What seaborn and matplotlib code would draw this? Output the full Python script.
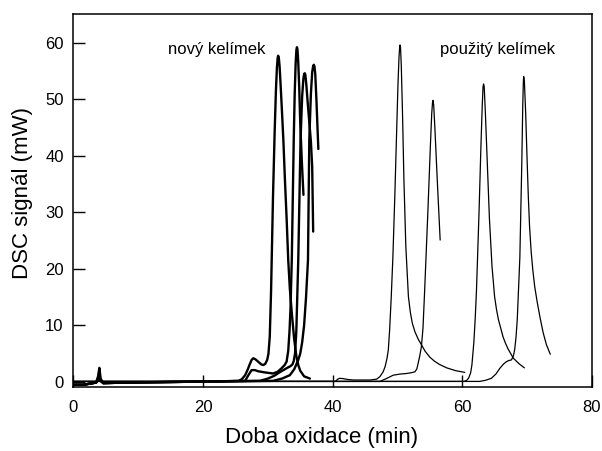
import matplotlib
matplotlib.use("Agg")
import matplotlib.pyplot as plt
import seaborn as sns

# ---- data (time in min, DSC signal in mW) ----
# new crucible ("nový kelímek") - thick curves
new_a_x = [0, 1.5, 2.5, 3.5, 3.8, 4.0, 4.2, 4.6, 8, 15, 22, 25.5, 26.0, 26.5, 26.9, 27.2, 27.5, 27.75, 28.1,
           28.5, 29.0, 29.3, 29.6, 29.9, 30.1, 30.3, 30.5, 30.8, 31.05, 31.25, 31.4, 31.52, 31.6, 31.7,
           31.82, 32.0, 32.2, 32.4, 32.65, 32.9, 33.15, 33.4, 33.7, 34.05, 34.4, 34.7, 35.0, 35.6, 36.5]
new_a_y = [-0.5, -0.5, -0.3, -0.1, 1.0, 2.5, 0.6, -0.2, -0.1, 0.0, 0.1, 0.2, 0.5, 1.2, 2.2, 3.1, 3.9, 4.2, 4.0,
           3.6, 3.1, 3.0, 3.2, 3.9, 5.0, 8, 16, 32.8, 44, 51.5, 55.5, 57.3, 57.7, 57.3,
           55.8, 52, 47.5, 42.8, 35.5, 29, 21.6, 16.5, 12.2, 7.8, 4.6, 3.0, 2.0, 1.0, 0.6]

new_b_x = [0, 1.5, 2.5, 3.5, 3.9, 4.1, 4.6, 8, 15, 22, 26.5, 27.0, 27.5, 28.0, 28.5, 29.5, 30.8, 31.5, 32.1,
           32.6, 32.9, 33.15, 33.35, 33.5, 33.7, 34.0, 34.15, 34.3, 34.42, 34.5, 34.58, 34.7, 34.85,
           35.0, 35.25, 35.5]
new_b_y = [-0.5, -0.5, -0.3, -0.1, 0.8, 0.4, -0.2, -0.1, 0.0, 0.1, 0.2, 1.2, 2.1, 2.1, 1.9, 1.7, 1.5, 1.8, 2.4,
           3.0, 3.6, 5.5, 9, 13, 21.6, 42.8, 51, 56.5, 58.8, 59.2, 58.8, 56.5, 52,
           46, 39, 33.1]

new_c_x = [0, 1.5, 2.5, 3.5, 3.9, 4.1, 4.6, 8, 15, 22, 28.8, 30.0, 31.0, 31.8, 32.4, 33.0, 33.5, 33.8, 34.0,
           34.2, 34.4, 34.7, 35.05, 35.3, 35.5, 35.62, 35.7, 35.8, 35.95, 36.15, 36.4, 36.65, 36.85, 37.0]
new_c_y = [-0.5, -0.5, -0.3, -0.1, 0.6, 0.3, -0.2, -0.1, 0.0, 0.1, 0.2, 0.6, 1.1, 1.7, 2.1, 2.5, 2.8, 3.1, 3.7,
           5, 9, 21.6, 42.8, 50.5, 53.8, 54.5, 54.6, 54.3, 52.5, 49.5, 46, 42.5, 38, 26.6]

new_d_x = [0, 1.5, 2.5, 3.5, 3.9, 4.1, 4.6, 8, 15, 22, 30.8, 32.2, 33.4, 34.1, 34.7, 35.0, 35.3, 35.6,
           35.9, 36.2, 36.4, 36.65, 36.85, 37.0, 37.1, 37.2, 37.32, 37.5, 37.65, 37.8]
new_d_y = [-0.5, -0.5, -0.3, -0.1, 0.7, 0.3, -0.2, -0.1, 0.0, 0.1, 0.2, 0.6, 1.2, 2.3, 3.9, 5.0, 7, 10,
           15, 21.6, 42.8, 51, 54.8, 55.9, 56.1, 55.8, 54.5, 50, 45.5, 41.2]

# used crucible ("použitý kelímek") - thin curves
used_a_x = [0, 40.4, 40.8, 41.1, 41.6, 42.3, 43.2, 45.75, 46.8, 47.3, 47.8, 48.1, 48.4, 48.6, 48.8, 49.05,
            49.3, 49.6, 49.9, 50.1, 50.25, 50.35, 50.4, 50.48, 50.6, 50.8, 51.0, 51.3, 51.7, 52.0, 52.3,
            52.7, 53.2, 53.6, 54.3, 55.0, 55.7, 56.5, 57.6, 59.0, 60.4]
used_a_y = [0.1, 0.1, 0.5, 0.65, 0.6, 0.45, 0.35, 0.35, 0.5, 0.95, 1.8, 2.7, 4.2, 5.7, 9.2, 15,
            22, 32.8, 45, 53, 57.5, 59.2, 59.6, 59.2, 56, 47, 36, 24, 15.1, 12.3, 10.4,
            8.9, 7.6, 6.8, 5.4, 4.4, 3.7, 3.1, 2.5, 2.0, 1.7]

used_b_x = [0, 47.3, 48.3, 49.35, 50.4, 51.4, 52.2, 52.7, 53.0, 53.2, 53.45, 53.7, 53.95, 54.2, 54.7, 55.1,
            55.3, 55.42, 55.5, 55.6, 55.8, 56.15, 56.6]
used_b_y = [0.1, 0.1, 0.6, 1.2, 1.4, 1.5, 1.65, 1.8, 2.3, 3.3, 4.6, 6.2, 9.5, 16, 30, 42,
            47.5, 49.4, 49.8, 49.0, 44.6, 35.8, 25.1]

used_c_x = [0, 60.3, 60.7, 61.0, 61.3, 61.5, 61.8, 62.0, 62.2, 62.6, 62.9, 63.1, 63.22, 63.3, 63.4, 63.6,
            63.9, 64.2, 64.6, 65.0, 65.3, 65.6, 66.0, 66.3, 66.7, 67.1, 67.5, 67.9, 68.8, 69.6]
used_c_y = [0.1, 0.1, 0.3, 0.7, 1.6, 3, 7, 11, 16, 30, 42, 49, 52.2, 52.7, 52.2, 47,
            38, 29, 20.5, 15.1, 12.8, 11, 9.3, 8.0, 6.8, 5.8, 5.0, 4.2, 3.2, 2.5]

used_d_x = [0, 62.7, 63.6, 64.5, 65.2, 65.8, 66.4, 66.85, 67.2, 67.6, 67.9, 68.1, 68.3, 68.5, 68.9, 69.2,
            69.35, 69.45, 69.5, 69.6, 69.8, 70.0, 70.2, 70.4, 70.65, 70.9, 71.2, 71.6, 72.0, 72.5, 73.0, 73.6]
used_d_y = [0.1, 0.1, 0.3, 0.65, 1.4, 2.4, 3.2, 3.6, 3.8, 3.9, 4.6, 5.7, 7.8, 11, 22, 38.7,
            49, 53.4, 54, 53.2, 47.5, 40, 33, 27.5, 23, 19.8, 16.8, 14, 11.5, 8.7, 6.6, 4.9]

x_ticks = [0, 20, 40, 60, 80]
y_ticks = [0, 10, 20, 30, 40, 50, 60]
x_label = "Doba oxidace (min)"
y_label = "DSC signál (mW)"
label_new = "nový kelímek"
label_used = "použitý kelímek"

# ---- plotting ----
sns.set_style("ticks")
plt.rcParams["font.family"] = ["Liberation Sans", "DejaVu Sans"]
plt.rcParams["text.color"] = "black"
plt.rcParams["axes.labelcolor"] = "black"
plt.rcParams["xtick.color"] = "black"
plt.rcParams["ytick.color"] = "black"

fig = plt.figure(figsize=(6.02, 4.51), dpi=100)
ax = fig.add_axes([0.122, 0.143, 0.861, 0.825])

thick = [(new_a_x, new_a_y), (new_b_x, new_b_y), (new_c_x, new_c_y), (new_d_x, new_d_y)]
thin = [(used_a_x, used_a_y), (used_b_x, used_b_y), (used_c_x, used_c_y), (used_d_x, used_d_y)]

for xs, ys in thin:
    sns.lineplot(x=xs, y=ys, color="black", linewidth=0.9, sort=False, estimator=None, ax=ax)
for xs, ys in thick:
    sns.lineplot(x=xs, y=ys, color="black", linewidth=1.7, sort=False, estimator=None, ax=ax)

ax.set_xlim(0, 80)
ax.set_ylim(-0.8, 65)
ax.set_xticks(x_ticks)
ax.set_yticks(y_ticks)
ax.tick_params(direction="in", length=8.5, width=1.0, labelsize=12, colors="black",
               labelcolor="black")
ax.tick_params(axis="x", pad=9.5)
ax.tick_params(axis="y", pad=7)
for s in ax.spines.values():
    s.set_linewidth(1.1)
    s.set_color("black")

ax.set_xlabel(x_label, fontsize=16, labelpad=9, color="black")
ax.set_ylabel(y_label, fontsize=16, labelpad=9, color="black")
ax.xaxis.label.set_x(0.479)
ax.yaxis.label.set_y(0.519)

ax.text(14.6, 58.8, label_new, fontsize=12, ha="left", va="center", color="black")
ax.text(56.6, 58.8, label_used, fontsize=12, ha="left", va="center", color="black")

fig.savefig("out.png", dpi=100)
